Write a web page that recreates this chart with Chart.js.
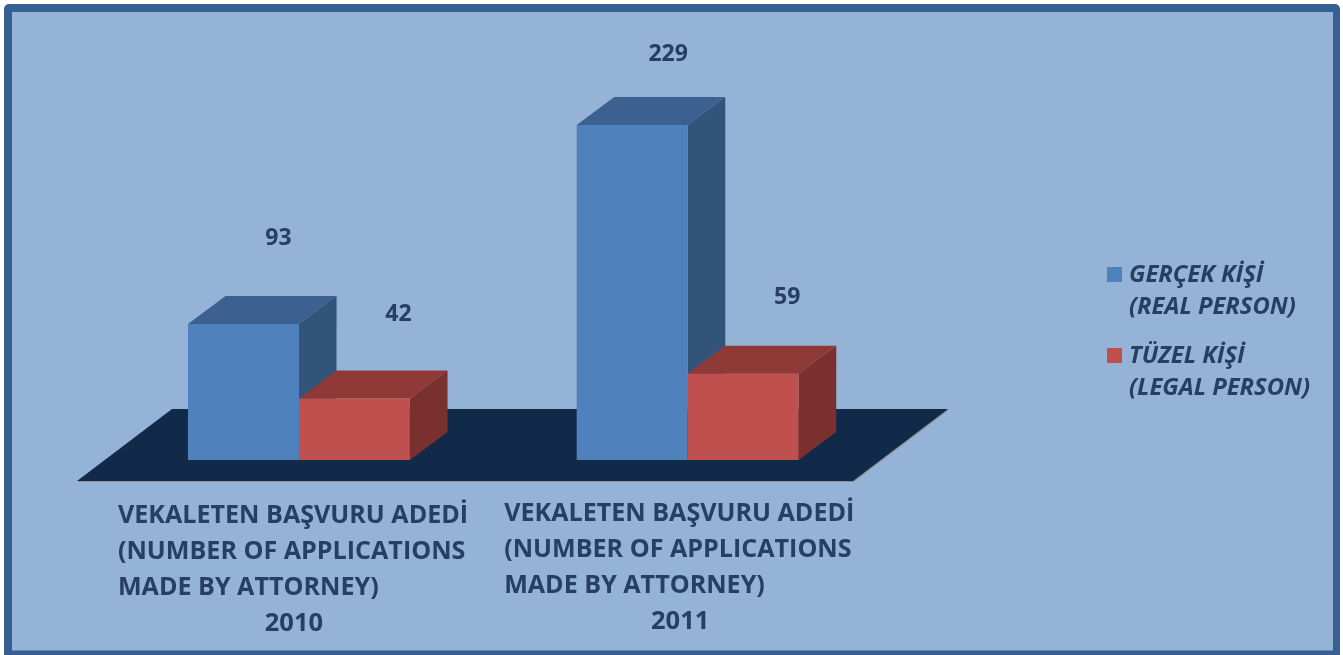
<!DOCTYPE html>
<html>
<head>
<meta charset="utf-8">
<style>html,body{margin:0;padding:0;background:#fff;overflow:hidden}canvas{display:block}</style>
<script src="https://cdn.jsdelivr.net/npm/chart.js@4"></script>
</head>
<body>
<canvas id="c" width="1343" height="655"></canvas>
<script>
const categories = ["2010", "2011"];
const categoryCaption = ["VEKALETEN BAŞVURU ADEDİ", "(NUMBER OF APPLICATIONS", "MADE BY ATTORNEY)"];
const realPerson = [93, 229];
const legalPerson = [42, 59];
const realPersonLabel = ["GERÇEK KİŞİ", "(REAL PERSON)"];
const legalPersonLabel = ["TÜZEL KİŞİ", "(LEGAL PERSON)"];

const TEXT = "#254061", FONT = "'Open Sans', sans-serif";
const DEPTH_X = 37.6, DEPTH_Y = 28;
const faces = [{top: "#3C6190", side: "#32537A"}, {top: "#903A38", side: "#7A302F"}];
const labelOffsets = [[[35, -85.5], [36, -70.5]], [[44, -84.5], [44, -76.5]]];
const captionShift = [[-181, 4, -5], [-183.5, 2, -7.5]];

function poly(ctx, pts, fill) {
  ctx.beginPath();
  pts.forEach((p, i) => i ? ctx.lineTo(p[0], p[1]) : ctx.moveTo(p[0], p[1]));
  ctx.closePath();
  ctx.fillStyle = fill;
  ctx.fill();
}

const scene = {
  id: "scene",
  beforeDraw(chart) {
    const ctx = chart.ctx, w = chart.width, h = chart.height;
    ctx.save();
    ctx.fillStyle = "#fff";
    ctx.fillRect(0, 0, w, h);
    ctx.beginPath();
    ctx.roundRect(4, 4, 1336, 660, 5);
    ctx.fillStyle = "#366092";
    ctx.fill();
    ctx.fillStyle = "#95B3D7";
    ctx.fillRect(12, 12, 1321, 638.5);
    ctx.restore();
  },
  beforeDatasetsDraw(chart) {
    const ctx = chart.ctx, a = chart.chartArea;
    ctx.save();
    const fl = a.left - 27.6, fr = a.right - 29, fb = a.bottom + 21, bt = a.bottom - 51;
    const floor = [[fl, fb], [fr, fb], [fr + 95, bt], [fl + 95, bt]];
    poly(ctx, floor.map(p => [p[0] + 0.6, p[1] + 1]), "#8f8f8f");
    poly(ctx, floor, "#122A49");
    chart.data.datasets.forEach((ds, d) => {
      chart.getDatasetMeta(d).data.forEach(bar => {
        const l = bar.x - bar.width / 2, r = bar.x + bar.width / 2, t = bar.y, b = bar.base;
        poly(ctx, [[l, t], [r, t], [r + DEPTH_X, t - DEPTH_Y], [l + DEPTH_X, t - DEPTH_Y]], faces[d].top);
        poly(ctx, [[r, t], [r + DEPTH_X, t - DEPTH_Y], [r + DEPTH_X, b - DEPTH_Y], [r, b]], faces[d].side);
      });
    });
    ctx.restore();
  },
  afterDatasetsDraw(chart) {
    const ctx = chart.ctx, xs = chart.scales.x;
    ctx.save();
    ctx.fillStyle = TEXT;
    ctx.textBaseline = "middle";
    ctx.font = "bold 23px " + FONT;
    ctx.textAlign = "center";
    chart.data.datasets.forEach((ds, d) => {
      chart.getDatasetMeta(d).data.forEach((bar, i) => {
        const o = labelOffsets[d][i];
        ctx.fillText(String(ds.data[i]), bar.x + o[0], bar.y + o[1]);
      });
    });
    const base = chart.chartArea.bottom;
    categories.forEach((cat, i) => {
      const cx = xs.getPixelForValue(i), s = captionShift[i];
      ctx.textAlign = "left";
      ctx.font = "bold 25.1px " + FONT;
      categoryCaption.forEach((line, n) => ctx.fillText(line, cx + s[0], base + 52 + s[1] + n * 36));
      ctx.textAlign = "center";
      ctx.font = "bold 25.5px " + FONT;
      ctx.fillText(cat, cx + s[2], base + 160 + s[1]);
    });
    const lx = 1107, ly = [267, 348];
    chart.data.datasets.forEach((ds, d) => {
      ctx.fillStyle = ds.backgroundColor;
      ctx.fillRect(lx, ly[d], 15, 15);
      ctx.fillStyle = TEXT;
      ctx.textAlign = "left";
      ctx.font = "italic bold 23.8px " + FONT;
      ds.label.forEach((line, n) => ctx.fillText(line, lx + 22, ly[d] + 8.5 + n * 32));
    });
    ctx.restore();
  }
};

new Chart(document.getElementById("c"), {
  type: "bar",
  data: {
    labels: categories,
    datasets: [
      {label: realPersonLabel, data: realPerson, backgroundColor: "#4F81BD", categoryPercentage: 0.571, barPercentage: 1},
      {label: legalPersonLabel, data: legalPerson, backgroundColor: "#C0504D", categoryPercentage: 0.571, barPercentage: 1}
    ]
  },
  options: {
    responsive: false,
    animation: false,
    layout: {padding: {left: 104.6, right: 461, top: 94.25, bottom: 195}},
    plugins: {legend: {display: false}, tooltip: {enabled: false}, title: {display: false}},
    scales: {
      x: {display: false},
      y: {display: false, min: 0, max: 250}
    }
  },
  plugins: [scene]
});
</script>
</body>
</html>
